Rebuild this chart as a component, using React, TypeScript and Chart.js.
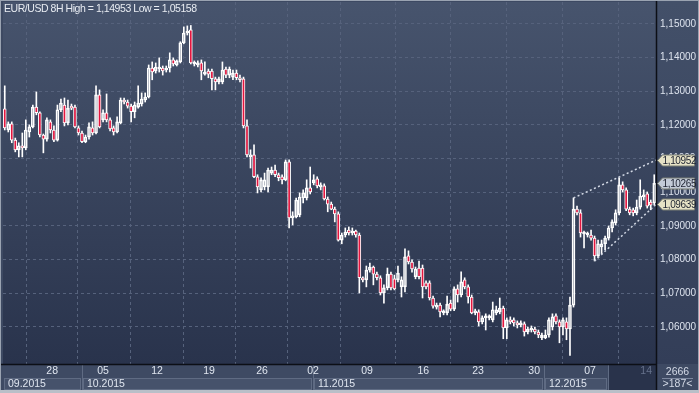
import React, { useEffect, useRef } from 'react';
import { Chart, registerables } from 'chart.js';
Chart.register(...registerables);

const opens = [
  1.1248, 1.1185, 1.1203, 1.1155, 1.1126, 1.1138, 1.1132, 1.1179, 1.1194, 1.1253,
  1.1236, 1.1170, 1.1158, 1.1209, 1.1185, 1.1155, 1.1245, 1.1259, 1.1206, 1.1256,
  1.1253, 1.1191, 1.1176, 1.1150, 1.1164, 1.1191, 1.1176, 1.1289, 1.1215, 1.1236,
  1.1215, 1.1191, 1.1179, 1.1206, 1.1274, 1.1268, 1.1256, 1.1239, 1.1253, 1.1262,
  1.1274, 1.1283, 1.1369, 1.1360, 1.1366, 1.1369, 1.1363, 1.1369, 1.1393, 1.1378,
  1.1387, 1.1444, 1.1473, 1.1482, 1.1381, 1.1378, 1.1384, 1.1351, 1.1360, 1.1360,
  1.1337, 1.1328, 1.1328, 1.1366, 1.1348, 1.1342, 1.1354, 1.1340, 1.1337, 1.1197,
  1.1105, 1.1111, 1.1046, 1.1007, 1.1016, 1.1016, 1.1057, 1.1066, 1.1052, 1.1046,
  1.1037, 1.1090, 1.0924, 1.0927, 1.0933, 1.0983, 1.0983, 1.1013, 1.1028, 1.1040,
  1.1016, 1.1019, 1.0980, 1.0965, 1.0950, 1.0936, 1.0858, 1.0873, 1.0888, 1.0879,
  1.0885, 1.0873, 1.0746, 1.0740, 1.0769, 1.0778, 1.0757, 1.0746, 1.0701, 1.0716,
  1.0757, 1.0743, 1.0740, 1.0719, 1.0719, 1.0811, 1.0793, 1.0749, 1.0775, 1.0775,
  1.0731, 1.0731, 1.0686, 1.0659, 1.0665, 1.0642, 1.0642, 1.0671, 1.0653, 1.0713,
  1.0695, 1.0740, 1.0719, 1.0689, 1.0642, 1.0645, 1.0615, 1.0627, 1.0627, 1.0621,
  1.0642, 1.0645, 1.0656, 1.0597, 1.0621, 1.0621, 1.0612, 1.0606, 1.0609, 1.0585,
  1.0591, 1.0594, 1.0585, 1.0568, 1.0568, 1.0576, 1.0600, 1.0633, 1.0615, 1.0600,
  1.0615, 1.0594, 1.0665, 1.0950, 1.0939, 1.0876, 1.0873, 1.0873, 1.0864, 1.0811,
  1.0838, 1.0847, 1.0864, 1.0894, 1.0909, 1.0939, 1.1022, 1.1007, 1.0950, 1.0948,
  1.0939, 1.0956, 1.0986, 1.0995, 1.0971, 1.0968,
];
const highs = [
  1.1316, 1.1209, 1.1209, 1.1161, 1.1147, 1.1176, 1.1215, 1.1200, 1.1259, 1.1298,
  1.1239, 1.1173, 1.1221, 1.1215, 1.1197, 1.1259, 1.1277, 1.1280, 1.1274, 1.1262,
  1.1259, 1.1197, 1.1182, 1.1170, 1.1206, 1.1209, 1.1316, 1.1304, 1.1245, 1.1292,
  1.1221, 1.1197, 1.1224, 1.1280, 1.1280, 1.1274, 1.1262, 1.1268, 1.1316, 1.1295,
  1.1295, 1.1378, 1.1387, 1.1384, 1.1399, 1.1375, 1.1375, 1.1414, 1.1399, 1.1393,
  1.1447, 1.1491, 1.1494, 1.14953, 1.1390, 1.1390, 1.1393, 1.1387, 1.1366, 1.1366,
  1.1342, 1.1342, 1.1387, 1.1372, 1.1372, 1.1363, 1.1363, 1.1348, 1.1342, 1.1215,
  1.1126, 1.1141, 1.1052, 1.1043, 1.1057, 1.1072, 1.1075, 1.1081, 1.1057, 1.1052,
  1.1096, 1.1096, 1.0942, 1.0983, 1.0998, 1.1007, 1.1037, 1.1075, 1.1052, 1.1046,
  1.1028, 1.1025, 1.0986, 1.0971, 1.0956, 1.0942, 1.0879, 1.0894, 1.0897, 1.0894,
  1.0888, 1.0879, 1.0749, 1.0781, 1.0790, 1.0781, 1.0763, 1.0752, 1.0725, 1.0775,
  1.0763, 1.0754, 1.0781, 1.0749, 1.0832, 1.0826, 1.0799, 1.0778, 1.0796, 1.0784,
  1.0737, 1.0737, 1.0692, 1.0671, 1.0671, 1.0651, 1.0692, 1.0680, 1.0719, 1.0725,
  1.0764, 1.0746, 1.0725, 1.0695, 1.0653, 1.0651, 1.0633, 1.0639, 1.0636, 1.0674,
  1.0662, 1.0686, 1.0662, 1.0627, 1.0630, 1.0627, 1.0618, 1.0618, 1.0615, 1.0600,
  1.0603, 1.0600, 1.0591, 1.0582, 1.0591, 1.0627, 1.0639, 1.0639, 1.0621, 1.0627,
  1.0627, 1.0689, 1.0983, 1.0959, 1.0948, 1.0885, 1.0882, 1.0888, 1.0870, 1.0858,
  1.0858, 1.0870, 1.0900, 1.0918, 1.0948, 1.1043, 1.1031, 1.1013, 1.0956, 1.0953,
  1.0977, 1.1037, 1.1007, 1.1001, 1.0977, 1.1052,
];
const lows = [
  1.1185, 1.1179, 1.1147, 1.1120, 1.1105, 1.1105, 1.1126, 1.1164, 1.1191, 1.1230,
  1.1164, 1.1117, 1.1152, 1.1176, 1.1150, 1.1152, 1.1239, 1.1197, 1.1200, 1.1245,
  1.1191, 1.1170, 1.1147, 1.1147, 1.1158, 1.1170, 1.1173, 1.1191, 1.1209, 1.1209,
  1.1182, 1.1170, 1.1176, 1.1203, 1.1262, 1.1250, 1.1209, 1.1221, 1.1250, 1.1256,
  1.1268, 1.1280, 1.1334, 1.1354, 1.1357, 1.1348, 1.1357, 1.1357, 1.1375, 1.1375,
  1.1384, 1.1441, 1.1467, 1.1381, 1.1375, 1.1372, 1.1334, 1.1348, 1.1340, 1.1304,
  1.1304, 1.1322, 1.1322, 1.1340, 1.1340, 1.1334, 1.1334, 1.1328, 1.1191, 1.1105,
  1.1072, 1.1043, 1.0998, 1.1001, 1.1007, 1.1001, 1.1052, 1.1046, 1.1034, 1.1025,
  1.1034, 1.0894, 1.0903, 1.0924, 1.0927, 1.0968, 1.0977, 1.0995, 1.1022, 1.1013,
  1.1007, 1.0977, 1.0942, 1.0948, 1.0912, 1.0855, 1.0847, 1.0867, 1.0873, 1.0873,
  1.0867, 1.0701, 1.0734, 1.0719, 1.0763, 1.0725, 1.0740, 1.0695, 1.0671, 1.0710,
  1.0710, 1.0710, 1.0734, 1.0689, 1.0704, 1.0787, 1.0763, 1.0743, 1.0743, 1.0686,
  1.0713, 1.0680, 1.0656, 1.0653, 1.0630, 1.0636, 1.0636, 1.0648, 1.0648, 1.0674,
  1.0689, 1.0713, 1.0671, 1.0639, 1.0636, 1.0603, 1.0609, 1.0591, 1.0621, 1.0615,
  1.0636, 1.0639, 1.0565, 1.0565, 1.0609, 1.0603, 1.0597, 1.0600, 1.0573, 1.0579,
  1.0585, 1.0579, 1.0568, 1.0562, 1.0565, 1.0570, 1.0591, 1.0609, 1.0553, 1.0576,
  1.0562, 1.05158, 1.0659, 1.0933, 1.0867, 1.0835, 1.0867, 1.0858, 1.0796, 1.0805,
  1.0817, 1.0829, 1.0858, 1.0882, 1.0903, 1.0933, 1.1001, 1.0945, 1.0933, 1.0930,
  1.0933, 1.0950, 1.0977, 1.0953, 1.0948, 1.0962,
];
const closes = [
  1.1191, 1.1203, 1.1155, 1.1126, 1.1138, 1.1132, 1.1185, 1.1194, 1.1253, 1.1236,
  1.1170, 1.1158, 1.1215, 1.1185, 1.1155, 1.1245, 1.1265, 1.1206, 1.1250, 1.1250,
  1.1194, 1.1176, 1.1150, 1.1164, 1.1194, 1.1176, 1.1289, 1.1194, 1.1236, 1.1215,
  1.1188, 1.1179, 1.1209, 1.1274, 1.1268, 1.1256, 1.1239, 1.1259, 1.1265, 1.1277,
  1.1283, 1.1369, 1.1357, 1.1372, 1.1372, 1.1360, 1.1369, 1.1393, 1.1381, 1.1390,
  1.1444, 1.1473, 1.1479, 1.1384, 1.1384, 1.1384, 1.1360, 1.1357, 1.1351, 1.1337,
  1.1328, 1.1337, 1.1363, 1.1348, 1.1366, 1.1354, 1.1340, 1.1334, 1.1197, 1.1111,
  1.1111, 1.1046, 1.1016, 1.1037, 1.1037, 1.1066, 1.1066, 1.1052, 1.1043, 1.1037,
  1.1090, 1.0924, 1.0930, 1.0977, 1.0986, 1.0998, 1.1013, 1.1001, 1.1037, 1.1019,
  1.1022, 1.0980, 1.0965, 1.0950, 1.0936, 1.0858, 1.0873, 1.0882, 1.0879, 1.0885,
  1.0873, 1.0746, 1.0740, 1.0769, 1.0778, 1.0757, 1.0746, 1.0701, 1.0716, 1.0757,
  1.0716, 1.0713, 1.0760, 1.0740, 1.0808, 1.0793, 1.0772, 1.0772, 1.0749, 1.0719,
  1.0719, 1.0686, 1.0662, 1.0665, 1.0645, 1.0645, 1.0668, 1.0653, 1.0713, 1.0695,
  1.0734, 1.0719, 1.0689, 1.0642, 1.0648, 1.0615, 1.0627, 1.0630, 1.0630, 1.0651,
  1.0651, 1.0656, 1.0597, 1.0621, 1.0615, 1.0612, 1.0606, 1.0612, 1.0585, 1.0594,
  1.0597, 1.0585, 1.0576, 1.0576, 1.0576, 1.0621, 1.0630, 1.0615, 1.0600, 1.0621,
  1.0594, 1.0665, 1.0950, 1.0939, 1.0879, 1.0879, 1.0876, 1.0864, 1.0811, 1.0847,
  1.0847, 1.0864, 1.0894, 1.0912, 1.0939, 1.1022, 1.1007, 1.0950, 1.0939, 1.0939,
  1.0956, 1.0989, 1.0992, 1.0959, 1.0962, 1.10265,
];

const dayTickPos = [13.5, 28, 43.4, 58.2, 73.3, 87.8, 103.2, 119.2, 134.8, 150.8, 166.7, 182.7];
const dayTickLabels = ['28', '05', '12', '19', '26', '02', '09', '16', '23', '30', '07', '14'];
const monthLabels = ['09.2015', '10.2015', '11.2015', '12.2015'];
const monthStarts = [-0.5, 22, 87.8, 153.6];
const monthEnds = [22, 87.8, 153.6, 171.9];
const priceTicks = [1.06, 1.07, 1.08, 1.09, 1.1, 1.11, 1.12, 1.13, 1.14, 1.15];
const upperChannel = [{ x: 162, y: 1.0983 }, { x: 185.5, y: 1.10952 }];
const lowerChannel = [{ x: 168, y: 1.0796 }, { x: 185.5, y: 1.09639 }];
const tagValues = [1.10952, 1.10265, 1.09639];
const tagFills = ['#e6e2c6', '#c3cbd8', '#e6e2c6'];
const titleText = 'EUR/USD 8H High = 1,14953 Low = 1,05158';
const barCountText = '2666';
const barVisibleText = '>187<';

const FONT = '"Liberation Sans", Arial, sans-serif';
const RED = '#e3163f';

const fmt = (v: number) => v.toFixed(5).replace('.', ',');

export default function App() {
  const ref = useRef<HTMLCanvasElement>(null);

  useEffect(() => {
    document.body.style.margin = '0';
    const canvas = ref.current!;
    const idx = opens.map((_, i) => i);
    const wickUp = idx.map((i) => ({ x: i, y: [Math.max(opens[i], closes[i]), highs[i]] }));
    const wickDown = idx.map((i) => ({ x: i, y: [lows[i], Math.min(opens[i], closes[i])] }));
    const bodies = idx.map((i) => ({ x: i, y: [opens[i], closes[i]] }));
    const bodyColors = idx.map((i) => (closes[i] < opens[i] ? RED : 'rgba(0,0,0,0)'));

    const decor = {
      id: 'decor',
      beforeDraw(chart: any) {
        const { ctx, chartArea, width: W, height: H } = chart;
        const { left, right, top, bottom } = chartArea;
        const xs = chart.scales.x;
        ctx.save();
        ctx.fillStyle = '#3d4962';
        ctx.fillRect(0, 0, W, H);
        const g = ctx.createLinearGradient(0, top, 0, bottom);
        g.addColorStop(0, '#47546d');
        g.addColorStop(1, '#29334c');
        ctx.fillStyle = g;
        ctx.fillRect(left, top, right - left, bottom - top);
        const g2 = ctx.createLinearGradient(0, top, 0, bottom);
        g2.addColorStop(0, '#435069');
        g2.addColorStop(1, '#333e58');
        ctx.fillStyle = g2;
        ctx.fillRect(right, 0, W - right, bottom);
        ctx.fillStyle = '#3e4a63';
        ctx.fillRect(0, bottom, W, H - bottom);
        for (let m = 0; m < monthLabels.length; m++) {
          const x0 = Math.round(xs.getPixelForValue(monthStarts[m]));
          const x1 = Math.round(xs.getPixelForValue(monthEnds[m]));
          ctx.fillStyle = '#46526b';
          ctx.fillRect(x0 + 1, bottom + 14, x1 - x0 - 2, 12);
          ctx.strokeStyle = '#5f6b83';
          ctx.lineWidth = 1;
          ctx.strokeRect(x0 + 1.5, bottom + 14.5, x1 - x0 - 3, 11);
          ctx.beginPath();
          ctx.moveTo(x1 + 0.5, bottom);
          ctx.lineTo(x1 + 0.5, H - 3);
          ctx.stroke();
        }
        const xd = Math.round(xs.getPixelForValue(monthEnds[monthEnds.length - 1]));
        ctx.fillStyle = '#29334b';
        ctx.fillRect(xd + 1, bottom, right - xd - 1, H - bottom - 3);
        ctx.restore();
      },
      afterDraw(chart: any) {
        const { ctx, chartArea, width: W, height: H } = chart;
        const { left, right, top, bottom } = chartArea;
        const xs = chart.scales.x;
        const ys = chart.scales.y;
        ctx.save();
        ctx.strokeStyle = '#0c0f16';
        ctx.lineWidth = 1.5;
        ctx.beginPath();
        ctx.moveTo(right + 0.5, 0);
        ctx.lineTo(right + 0.5, H - 3);
        ctx.moveTo(0, bottom + 0.5);
        ctx.lineTo(right, bottom + 0.5);
        ctx.stroke();
        ctx.fillStyle = '#9aa3b1';
        ctx.fillRect(0, 0, 1, H);
        ctx.fillRect(0, 0, W, 1);
        ctx.fillRect(W - 1, 0, 1, H);
        ctx.fillStyle = '#b9bfc8';
        ctx.fillRect(0, H - 3, W, 3);
        ctx.textBaseline = 'middle';
        ctx.textAlign = 'left';
        ctx.font = `10.5px ${FONT}`;
        (ctx as any).letterSpacing = '-0.45px';
        ctx.fillStyle = '#e8ecf2';
        ctx.fillText(titleText, left + 1, top + 7);
        (ctx as any).letterSpacing = '0px';
        ctx.font = `10.5px ${FONT}`;
        ctx.fillStyle = '#dfe5ef';
        for (let m = 0; m < monthLabels.length; m++) {
          const x0 = Math.round(xs.getPixelForValue(monthStarts[m]));
          ctx.fillText(monthLabels[m], x0 + 5, bottom + 20.5);
        }
        ctx.textAlign = 'center';
        ctx.fillStyle = '#d3d9e6';
        const cx = (right + W) / 2;
        ctx.fillText(barCountText, cx, bottom + 8);
        ctx.fillText(barVisibleText, cx, bottom + 20.5);
        ctx.strokeStyle = '#7d889f';
        ctx.lineWidth = 1;
        ctx.beginPath();
        ctx.moveTo(right + 6, bottom + 14.5);
        ctx.lineTo(W - 6, bottom + 14.5);
        ctx.stroke();
        ctx.textAlign = 'left';
        for (let t = 0; t < tagValues.length; t++) {
          const y = Math.round(ys.getPixelForValue(tagValues[t])) + 0.5;
          ctx.beginPath();
          ctx.moveTo(right + 1.5, y);
          ctx.lineTo(right + 6.5, y - 5.5);
          ctx.lineTo(W - 4.5, y - 5.5);
          ctx.lineTo(W - 4.5, y + 5.5);
          ctx.lineTo(right + 6.5, y + 5.5);
          ctx.closePath();
          ctx.fillStyle = tagFills[t];
          ctx.fill();
          ctx.strokeStyle = '#7b7f74';
          ctx.lineWidth = 1;
          ctx.stroke();
          ctx.fillStyle = '#1d2230';
          ctx.font = `10px ${FONT}`;
          (ctx as any).letterSpacing = '-0.35px';
          ctx.fillText(fmt(tagValues[t]), right + 6.5, y + 0.5);
          (ctx as any).letterSpacing = '0px';
        }
        ctx.restore();
      },
    };

    const chart = new Chart(canvas, {
      type: 'bar',
      data: {
        datasets: [
          {
            type: 'line',
            data: upperChannel,
            borderColor: '#d2d8e4',
            borderWidth: 1.5,
            borderDash: [2, 2.5],
            pointRadius: 0,
            order: 0,
          } as any,
          {
            type: 'line',
            data: lowerChannel,
            borderColor: '#d2d8e4',
            borderWidth: 1.5,
            borderDash: [2, 2.5],
            pointRadius: 0,
            order: 0,
          } as any,
          {
            data: bodies as any,
            backgroundColor: bodyColors,
            borderColor: '#ffffff',
            borderWidth: 1,
            borderSkipped: false,
            barThickness: 3,
            minBarLength: 2,
            grouped: false,
            order: 1,
          } as any,
          {
            data: wickUp as any,
            backgroundColor: '#ffffff',
            borderWidth: 0,
            barThickness: 1,
            grouped: false,
            order: 2,
          } as any,
          {
            data: wickDown as any,
            backgroundColor: '#ffffff',
            borderWidth: 0,
            barThickness: 1,
            grouped: false,
            order: 2,
          } as any,
        ],
      },
      options: {
        responsive: false,
        animation: false,
        devicePixelRatio: 1,
        layout: { padding: { left: 3, top: 2, right: 0, bottom: 0 } },
        plugins: { legend: { display: false }, tooltip: { enabled: false }, title: { display: false } },
        scales: {
          x: {
            type: 'linear',
            min: -0.5,
            max: 185.5,
            offset: false,
            afterBuildTicks: (s: any) => {
              s.ticks = dayTickPos.map((v) => ({ value: v }));
            },
            afterFit: (s: any) => {
              s.height = 29;
              s.paddingLeft = 0;
              s.paddingRight = 0;
            },
            grid: { color: '#56627c', lineWidth: 1, drawTicks: false },
            border: { display: false, dash: [3, 3] },
            ticks: {
              autoSkip: false,
              maxRotation: 0,
              padding: 1,
              font: { family: FONT, size: 10.5 },
              color: (c: any) => (c.index === dayTickLabels.length - 1 ? '#66728c' : '#dfe5ef'),
              callback: (_v: any, i: number) => dayTickLabels[i],
            },
          },
          y: {
            type: 'linear',
            position: 'right',
            min: 1.049,
            max: 1.1565,
            afterBuildTicks: (s: any) => {
              s.ticks = priceTicks.map((v) => ({ value: v }));
            },
            afterFit: (s: any) => {
              s.width = 43;
              s.paddingTop = 0;
              s.paddingBottom = 0;
            },
            grid: { color: '#56627c', lineWidth: 1, drawTicks: false },
            border: { display: false, dash: [3, 3] },
            ticks: {
              padding: 4,
              font: { family: FONT, size: 10 },
              color: '#dde3ee',
              callback: (v: any) => fmt(Number(v)),
            },
          },
        },
      } as any,
      plugins: [decor],
    });
    return () => chart.destroy();
  }, []);

  return (
    <div style={{ width: 699, height: 393 }}>
      <canvas ref={ref} width={699} height={393} style={{ display: 'block', width: 699, height: 393 }} />
    </div>
  );
}
